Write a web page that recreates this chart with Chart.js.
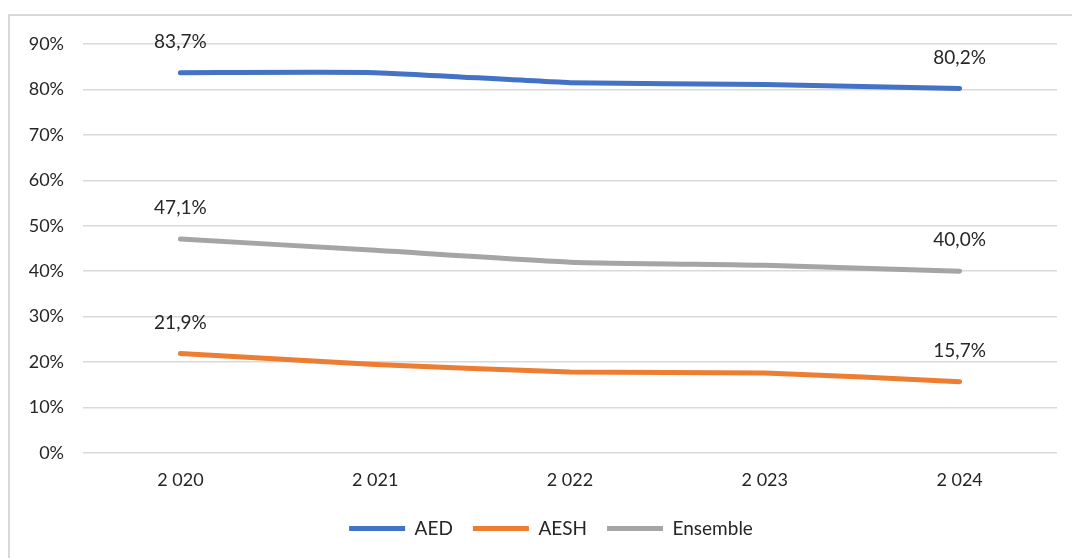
<!DOCTYPE html>
<html>
<head>
<meta charset="utf-8">
<script src="https://cdn.jsdelivr.net/npm/chart.js@4"></script>
<style>
  body { margin: 0; background: #fff; overflow: hidden; }
  #frame { position: absolute; left: 8px; top: 14px; width: 1080px; height: 560px; border: 2px solid #d9d9d9; box-sizing: border-box; }
  #wrap { position: absolute; left: 0; top: 0; width: 1072px; height: 558px; }
</style>
</head>
<body>
<div id="frame"></div>
<div id="wrap"><canvas id="taux"></canvas></div>
<script>
var annees = ['2 020', '2 021', '2 022', '2 023', '2 024'];
var aed = [83.7, 83.7, 81.5, 81.1, 80.2];
var aesh = [21.9, 19.5, 17.8, 17.6, 15.7];
var ensemble = [47.1, 44.6, 42.0, 41.3, 40.0];
var yTicks = [0, 10, 20, 30, 40, 50, 60, 70, 80, 90];

var police = "'Lato', 'Noto Sans', sans-serif";

// etiquettes au premier et au dernier point seulement
var etiquettes = {
  id: 'etiquettes',
  afterDatasetsDraw: function(chart) {
    var ctx = chart.ctx;
    ctx.save();
    ctx.font = '19px ' + police;
    ctx.fillStyle = '#262626';
    ctx.textAlign = 'center';
    ctx.textBaseline = 'middle';
    chart.data.datasets.forEach(function(ds, i) {
      var meta = chart.getDatasetMeta(i);
      [0, ds.data.length - 1].forEach(function(j) {
        var pt = meta.data[j];
        var txt = ds.data[j].toFixed(1).replace('.', ',') + '%';
        ctx.fillText(txt, pt.x, pt.y - 31);
      });
    });
    ctx.restore();
  }
};

// legende centree sur la zone de trace
var decalageLegende = {
  id: 'decalageLegende',
  afterLayout: function(chart) {
    var lg = chart.legend;
    var dx = (chart.chartArea.left + chart.chartArea.right) / 2 - (lg.left + lg.right) / 2 - 19;
    lg.left += dx;
    lg.right += dx;
  }
};

var ctx = document.getElementById('taux');
if (ctx) {
  var myChart = new Chart(ctx, {
    type: 'line',
    data: {
      labels: annees,
      datasets: [{
        label: 'AED',
        data: aed,
        borderWidth: 5,
        borderColor: '#4472c4',
        backgroundColor: '#4472c4'
      }, {
        label: 'AESH',
        data: aesh,
        borderWidth: 5,
        borderColor: '#ed7d31',
        backgroundColor: '#ed7d31'
      }, {
        label: 'Ensemble',
        data: ensemble,
        borderWidth: 5,
        borderColor: '#a5a5a5',
        backgroundColor: '#a5a5a5'
      }]
    },
    options: {
      responsive: true,
      maintainAspectRatio: false,
      animation: false,
      elements: {
        line: { tension: 0.15, borderCapStyle: 'round', borderJoinStyle: 'round' },
        point: { radius: 0, hoverRadius: 0 }
      },
      layout: { padding: { top: 44, right: 15, left: 0, bottom: 10 } },
      scales: {
        x: {
          offset: true,
          grid: { display: false, drawTicks: false },
          border: { display: false },
          ticks: { color: '#262626', font: { family: police, size: 18 }, padding: 16 },
          afterFit: function(s) { s.height = 46; }
        },
        y: {
          min: 0,
          max: 90,
          afterBuildTicks: function(s) { s.ticks = yTicks.map(function(v) { return { value: v }; }); },
          grid: { color: '#d9d9d9', lineWidth: 1.5, drawTicks: false },
          border: { display: false },
          ticks: {
            color: '#262626',
            font: { family: police, size: 18 },
            padding: 19,
            callback: function(v) { return v + '%'; }
          },
          afterFit: function(s) { s.width = 83; }
        }
      },
      plugins: {
        legend: {
          position: 'bottom',
          labels: {
            usePointStyle: true,
            pointStyle: 'line',
            pointStyleWidth: 56,
            color: '#262626',
            font: { family: police, size: 19 },
            padding: 20
          }
        },
        tooltip: { enabled: false }
      }
    },
    plugins: [etiquettes, decalageLegende]
  });
}
</script>
</body>
</html>
